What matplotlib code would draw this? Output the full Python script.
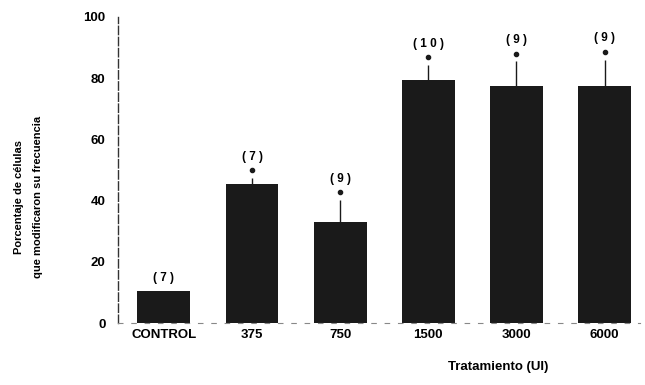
import numpy as np
import matplotlib
matplotlib.use("Agg")
import matplotlib.pyplot as plt

# Data
categories = ["CONTROL", "375", "750", "1500", "3000", "6000"]
values = [10.5, 45.4, 33.0, 79.5, 77.5, 77.5]
err_up = [0.0, 2.0, 7.2, 4.8, 8.0, 8.5]
n_labels = ["( 7 )", "( 7 )", "( 9 )", "( 1 0 )", "( 9 )", "( 9 )"]
signif = [False, True, True, True, True, True]

plt.rcParams["font.family"] = ["Liberation Sans", "DejaVu Sans"]
plt.rcParams["font.weight"] = "bold"

fig = plt.figure(figsize=(6.45, 3.85), dpi=100)
ax = fig.add_axes([0.183, 0.161, 0.809, 0.795])

x = np.arange(len(categories))
ax.bar(x, values, width=0.6, color="#1a1a1a", zorder=2)
ax.errorbar(x, values, yerr=[np.zeros(len(x)), err_up], fmt="none",
            ecolor="#1a1a1a", elinewidth=1.0, capsize=0, zorder=1)

# asterisk dots and n labels
for i, (v, e) in enumerate(zip(values, err_up)):
    top = v + e
    if signif[i]:
        ax.plot(i, top + 2.5, "o", color="#1a1a1a", markersize=3)
        ax.text(i, top + 7, n_labels[i], ha="center", va="center",
                fontsize=8.5, fontweight="bold")
    else:
        ax.text(i, top + 4.2, n_labels[i], ha="center", va="center",
                fontsize=8.5, fontweight="bold")

ax.set_xlim(-0.52, 5.4)
ax.set_ylim(0, 100)
ax.set_yticks([0, 20, 40, 60, 80, 100])
ax.set_xticks(x)
ax.set_xticklabels(categories, fontsize=9.5, fontweight="bold")
ax.tick_params(axis="y", length=0, pad=9, labelsize=9.5)
ax.tick_params(axis="x", length=0, pad=4)

for s in ["top", "right"]:
    ax.spines[s].set_visible(False)
ax.spines["left"].set_linestyle((0, (6, 2)))
ax.spines["left"].set_linewidth(1.0)
ax.spines["left"].set_color("#333333")
ax.spines["bottom"].set_linestyle((0, (4, 8)))
ax.spines["bottom"].set_linewidth(0.8)
ax.spines["bottom"].set_color("#888888")

fig.text(0.03, 0.488, "Porcentaje de células", rotation=90, ha="center",
         va="center", fontsize=8, fontweight="bold")
fig.text(0.059, 0.488, "que modificaron su frecuencia", rotation=90,
         ha="center", va="center", fontsize=8, fontweight="bold")
fig.text(0.772, 0.047, "Tratamiento (UI)", ha="center", va="center",
         fontsize=9.5, fontweight="bold")

fig.savefig("out.png", dpi=100)
